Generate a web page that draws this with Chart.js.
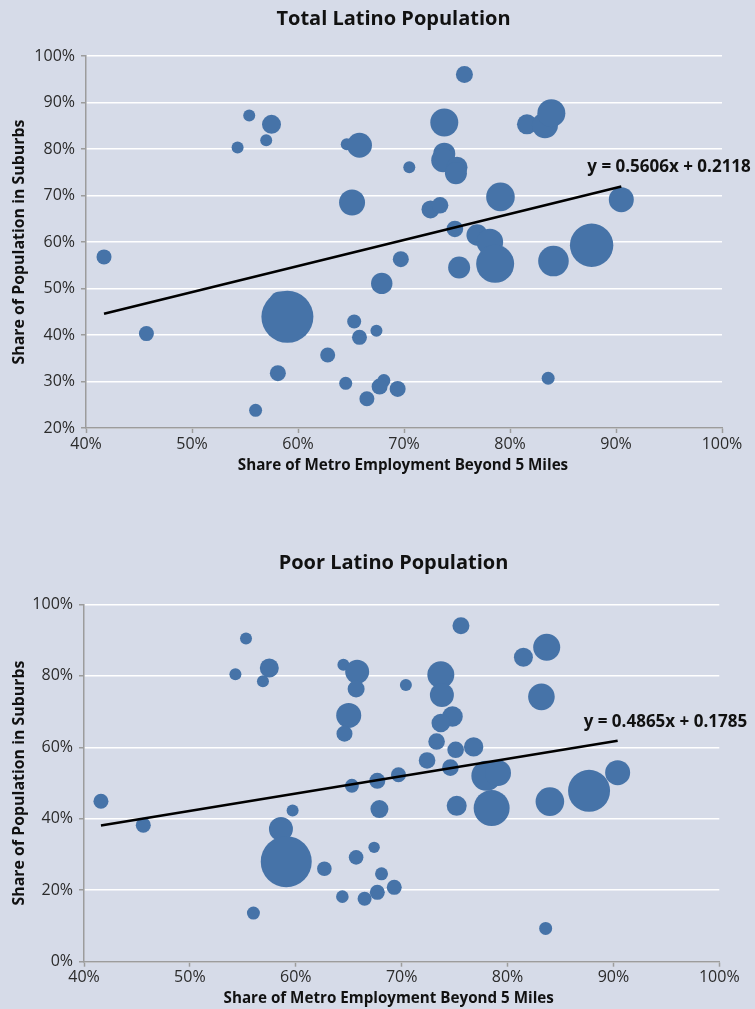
<!DOCTYPE html>
<html>
<head>
<meta charset="utf-8">
<script src="https://cdn.jsdelivr.net/npm/chart.js@4.4.1/dist/chart.umd.min.js"></script>
<style>
  html, body { margin: 0; padding: 0; background: #d6dbe8; }
  body { width: 755px; height: 1009px; position: relative; overflow: hidden; }
  canvas { position: absolute; left: 0; }
  #totalChart { top: 0; }
  #poorChart { top: 520px; }
</style>
</head>
<body>
<canvas id="totalChart" width="755" height="490"></canvas>
<canvas id="poorChart" width="755" height="489"></canvas>
<script>
// Total Latino population: share of metro employment beyond 5 miles (x, %),
// share of population in suburbs (y, %), bubble radius (population weight)
const totalX = [41.7, 45.7, 58.3, 59.0, 54.3, 55.4, 57.5, 57.0, 64.6, 65.8, 65.1, 75.7, 73.8, 81.6, 83.3, 83.9,
                73.8, 73.7, 75.0, 74.9, 70.5, 79.1, 90.5, 72.5, 73.4, 74.8, 76.9, 78.1, 78.6, 69.7, 75.2, 84.1,
                87.7, 67.9, 65.3, 67.4, 65.8, 62.8, 58.1, 64.5, 68.1, 67.7, 69.4, 66.5, 56.0, 83.6];
const totalY = [56.8, 40.3, 47.0, 43.9, 80.3, 87.2, 85.3, 81.9, 81.0, 80.8, 68.5, 96.0, 85.7, 85.3, 85.1, 87.7,
                79.0, 77.6, 76.1, 74.8, 76.1, 69.7, 69.1, 67.0, 67.9, 62.8, 61.5, 60.0, 55.3, 56.3, 54.5, 55.9,
                59.3, 51.1, 42.9, 40.9, 39.5, 35.7, 31.8, 29.6, 30.2, 28.9, 28.4, 26.3, 23.8, 30.7];
const totalSize = [7.5, 7.5, 11, 26, 6, 6, 9.5, 6, 6, 12.5, 13, 8.5, 14, 10, 13, 14,
                   11, 12, 10.5, 11, 6, 14.3, 12.5, 9, 8.3, 8.3, 10.7, 13.3, 19, 8, 11, 15.3,
                   21.7, 10.7, 7, 6, 7.5, 7.5, 8, 6.5, 6.5, 8, 8, 7.5, 6.5, 6.5];

// Poor Latino population
const poorX = [41.6, 45.6, 58.6, 59.1, 59.7, 56.0, 62.7, 64.4, 65.7, 66.5, 67.4, 65.3, 68.1, 67.7, 69.3, 83.6,
               55.3, 54.3, 57.5, 56.9, 64.5, 65.8, 65.7, 65.0, 64.6, 75.6, 81.5, 83.7, 70.4, 73.7, 73.8, 83.2,
               74.8, 73.7, 73.3, 75.1, 76.8, 72.4, 74.6, 69.7, 67.7, 67.9, 78.0, 79.1, 78.5, 75.2, 84.0, 87.7, 90.4];
const poorY = [44.9, 38.2, 37.1, 28.0, 42.3, 13.6, 26.0, 18.2, 29.2, 17.6, 32.0, 49.2, 24.6, 19.4, 20.8, 9.3,
               90.4, 80.4, 82.2, 78.5, 83.1, 81.1, 76.3, 68.9, 63.8, 94.0, 85.2, 88.0, 77.4, 80.3, 74.6, 74.1,
               68.6, 66.8, 61.6, 59.3, 60.1, 56.3, 54.3, 52.3, 50.6, 42.7, 52.0, 52.8, 43.0, 43.6, 44.8, 47.8, 52.9];
const poorSize = [7.5, 7.5, 12, 25.5, 6, 6.5, 7.3, 6.3, 7.3, 7, 5.7, 7, 6.5, 7.5, 7.5, 6.5,
                  6, 6, 9.5, 6, 6, 12, 8.5, 12.5, 8, 8.5, 9.5, 13.5, 6, 13.5, 12, 13.3,
                  10.3, 9.3, 8.3, 8.3, 9.7, 8.3, 8.3, 7.5, 8, 9, 15, 13, 18, 10, 14.3, 21, 12.5];

// Linear trend lines (fractions): y = slope * x + intercept
const totalTrend = [0.5606, 0.2118];
const poorTrend = [0.4865, 0.1785];

const xTicks = [40, 50, 60, 70, 80, 90, 100];
const totalYTicks = [20, 30, 40, 50, 60, 70, 80, 90, 100];
const poorYTicks = [0, 20, 40, 60, 80, 100];

const X_TITLE = 'Share of Metro Employment Beyond 5 Miles';
const Y_TITLE = 'Share of Population in Suburbs';

const BUBBLE = '#4673a8';
const AXIS = '#9c9c9c';
const INK = '#111';
const FONT = '"Open Sans", "DejaVu Sans", sans-serif';

// Chart heading, x-axis caption and the trend equation beside the line end
const annotations = {
  id: 'annotations',
  afterDatasetsDraw(chart, args, opts) {
    const ctx = chart.ctx;
    const pts = chart.getDatasetMeta(0).data;
    const end = pts[pts.length - 1];
    ctx.save();
    ctx.fillStyle = INK;
    ctx.textBaseline = 'middle';

    ctx.textAlign = 'center';
    ctx.font = 'bold 20px ' + FONT;
    ctx.fillText(opts.title, opts.titleX, opts.titleY);

    ctx.font = 'bold 15.2px ' + FONT;
    ctx.fillText(X_TITLE, opts.xTitleX, opts.xTitleY);

    ctx.textAlign = 'left';
    ctx.font = 'bold 17px ' + FONT;
    ctx.fillText(opts.equation, end.x - 34, end.y - 19);
    ctx.restore();
  }
};

function buildChart(id, title, xs, ys, sizes, trend, yTicks, box) {
  const [slope, intercept] = trend;
  const xMin = Math.min(...xs), xMax = Math.max(...xs);
  const fit = x => (slope * x / 100 + intercept) * 100;
  const equation = 'y = ' + slope.toFixed(4) + 'x + ' + intercept.toFixed(4);

  return new Chart(document.getElementById(id), {
    type: 'bubble',
    data: {
      datasets: [
        {
          type: 'line',
          data: [{ x: xMin, y: fit(xMin) }, { x: xMax, y: fit(xMax) }],
          borderColor: '#000',
          borderWidth: 2.6,
          pointRadius: 0,
          fill: false
        },
        {
          data: xs.map((x, i) => ({ x, y: ys[i], r: sizes[i] })),
          backgroundColor: BUBBLE,
          borderColor: BUBBLE,
          borderWidth: 0
        }
      ]
    },
    options: {
      responsive: false,
      animation: false,
      devicePixelRatio: 1,
      events: [],
      layout: { padding: { top: box.top, left: 0, right: box.padRight, bottom: box.padBottom } },
      plugins: {
        legend: { display: false },
        tooltip: { enabled: false },
        title: { display: false },
        annotations: {
          title, equation,
          titleX: box.titleX, titleY: box.titleY,
          xTitleX: box.xTitleX, xTitleY: box.xTitleY
        }
      },
      scales: {
        x: {
          type: 'linear',
          min: xTicks[0],
          max: xTicks[xTicks.length - 1],
          afterBuildTicks: s => { s.ticks = xTicks.map(v => ({ value: v })); },
          ticks: {
            callback: v => v + '%',
            color: '#2b2b2b',
            padding: box.xTickPad,
            font: { family: FONT, size: 16, lineHeight: 1.2 }
          },
          grid: { drawOnChartArea: false, tickLength: 5, tickColor: AXIS, tickWidth: 1.5 },
          border: { color: AXIS, width: 1.5, z: 1 },
          title: { display: false },
          afterFit: s => { s.height = box.xAxisH; }
        },
        y: {
          type: 'linear',
          min: yTicks[0],
          max: yTicks[yTicks.length - 1],
          afterBuildTicks: s => { s.ticks = yTicks.map(v => ({ value: v })); },
          ticks: {
            callback: v => v + '%',
            color: '#2b2b2b',
            padding: 6,
            font: { family: FONT, size: 16, lineHeight: 1.2 }
          },
          grid: { color: '#ffffff', lineWidth: 1.5, tickLength: 5, tickColor: AXIS, tickWidth: 1.5 },
          border: { color: AXIS, width: 1.5, z: 1 },
          title: {
            display: true,
            text: Y_TITLE,
            color: INK,
            font: { family: FONT, size: 15.9, weight: 'bold', lineHeight: 1.2 },
            padding: { top: 10, bottom: 0 }
          },
          afterFit: s => { s.width = box.yAxisW; }
        }
      }
    },
    plugins: [annotations]
  });
}

buildChart('totalChart', 'Total Latino Population', totalX, totalY, totalSize, totalTrend, totalYTicks,
  { top: 56, yAxisW: 86, xAxisH: 46, padRight: 33, padBottom: 16, xTickPad: 2,
    titleX: 393.5, titleY: 19, xTitleX: 403, xTitleY: 466 });

buildChart('poorChart', 'Poor Latino Population', poorX, poorY, poorSize, poorTrend, poorYTicks,
  { top: 84.3, yAxisW: 84, xAxisH: 44.4, padRight: 35.7, padBottom: 2.9, xTickPad: 1,
    titleX: 393.5, titleY: 43, xTitleX: 388.7, xTitleY: 478.3 });
</script>
</body>
</html>
